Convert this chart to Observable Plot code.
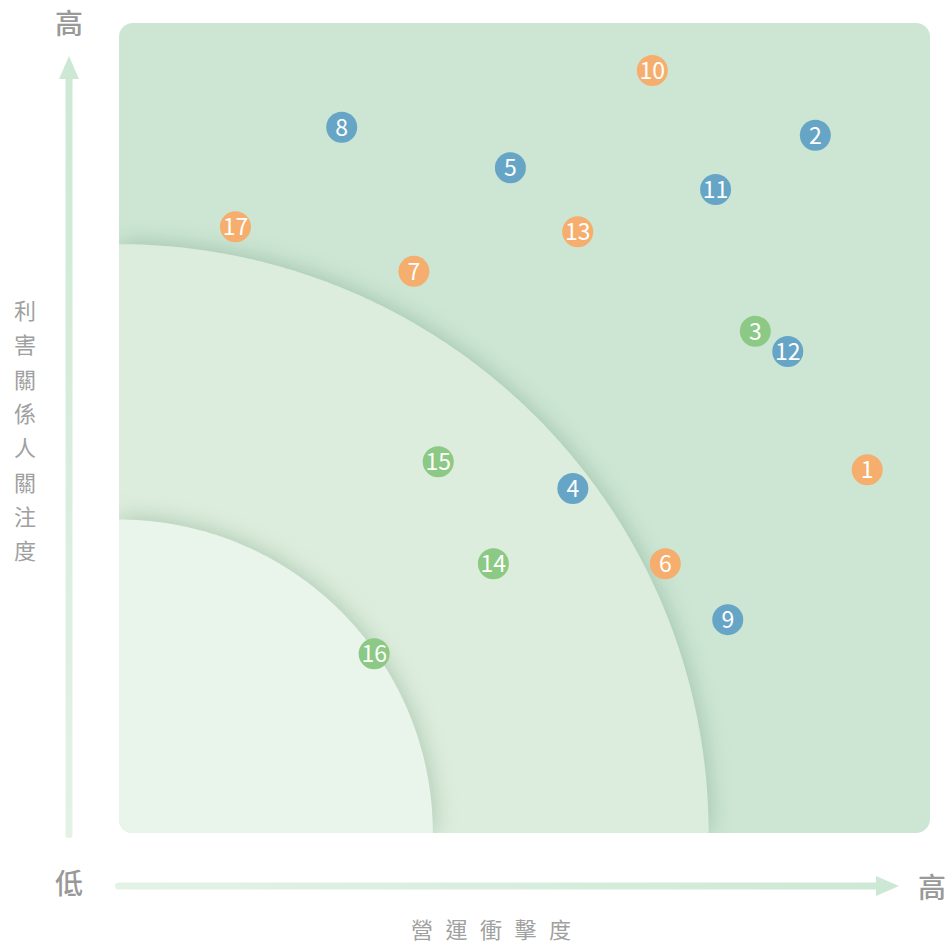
<!DOCTYPE html>
<html>
<head>
<meta charset="utf-8">
<script src="https://cdn.jsdelivr.net/npm/d3@7"></script>
<script src="https://cdn.jsdelivr.net/npm/@observablehq/plot@0.6"></script>
<style>
  html, body { margin: 0; padding: 0; background: #fff; }
  #chart { width: 949px; height: 944px; }
  svg text { font-family: "Noto Sans CJK TC", "Noto Sans", sans-serif; }
</style>
</head>
<body>
<div id="chart"></div>
<script>
// ---- data ----
const ids     = [1, 2, 3, 4, 5, 6, 7, 8, 9, 10, 11, 12, 13, 14, 15, 16, 17];
const impact  = [9.22, 8.58, 7.84, 5.59, 4.82, 6.73, 3.63, 2.74, 7.50, 6.57, 7.35, 8.24, 5.65, 4.61, 3.93, 3.14, 1.43];
const concern = [4.49, 8.62, 6.20, 4.26, 8.22, 3.33, 6.94, 8.72, 2.64, 9.42, 7.95, 5.95, 7.43, 3.33, 4.59, 2.22, 7.49];
const groups  = ["環境", "社會", "治理", "社會", "社會", "環境", "環境", "社會", "社會", "環境", "社會", "社會", "環境", "治理", "治理", "治理", "環境"];
const groupNames  = ["環境", "社會", "治理"];
const groupColors = ["#f5ae6d", "#66a5c6", "#8cc984"];
const zoneRadii   = [7.27, 3.87];            // middle and inner quarter-circle zones
const zoneColors  = ["#ddeddd", "#e9f4ea"];
const panelColor  = "#cde6d4";
const axisMax = 10;
const yTitle = "利害關係人關注度";
const xTitle = "營運衝擊度";
const lowLabel = "低", highLabel = "高";

const points = ids.map((id, i) => ({id, x: impact[i], y: concern[i], g: groups[i]}));
const zones = zoneRadii.map((R, k) =>
  d3.range(0, 241).map(j => {
    const a = (Math.PI / 2) * j / 240;
    return {zone: k, x: R * Math.cos(a), y: R * Math.sin(a)};
  })
);

const mL = 119, mR = 19, mT = 23, mB = 111, W = 949, H = 944;

const chart = Plot.plot({
  width: W, height: H,
  marginLeft: mL, marginRight: mR, marginTop: mT, marginBottom: mB,
  x: {domain: [0, axisMax], axis: null},
  y: {domain: [0, axisMax], axis: null},
  color: {domain: groupNames, range: groupColors},
  marks: [
    Plot.rect([0], {x1: 0, x2: axisMax, y1: 0, y2: axisMax, fill: panelColor, rx: 14}),
    Plot.areaY(zones[0], {x: "x", y: "y", fill: zoneColors[0], curve: "linear", className: "zone"}),
    Plot.areaY(zones[1], {x: "x", y: "y", fill: zoneColors[1], curve: "linear", className: "zone"}),
    Plot.dot(points, {x: "x", y: "y", r: 15.5, fill: "g", stroke: null}),
    Plot.text(points, {x: "x", y: "y", text: d => String(d.id), fill: "white", fontSize: 23, dy: 1,
      fontFamily: "Noto Sans, sans-serif"})
  ]
});

document.getElementById("chart").appendChild(chart);

// ---- decorations: rounded clip, shadows, axis arrows, labels ----
const svg = d3.select(chart);
const defs = svg.append("defs");
defs.append("clipPath").attr("id", "panelClip")
  .append("rect").attr("x", mL).attr("y", mT)
  .attr("width", W - mL - mR).attr("height", H - mT - mB).attr("rx", 14);
svg.selectAll(".zone").each(function() {
  const g = this;
  g.style.filter = "drop-shadow(0px 0px 12px rgba(70,130,90,0.38))";
  const wrap = document.createElementNS("http://www.w3.org/2000/svg", "g");
  wrap.setAttribute("clip-path", "url(#panelClip)");
  g.parentNode.insertBefore(wrap, g);
  wrap.appendChild(g);
});

const ax = mL - 50;            // vertical arrow x
const ay = H - mB + 53;        // horizontal arrow y

const gv = defs.append("linearGradient").attr("id", "gv").attr("gradientUnits", "userSpaceOnUse")
  .attr("x1", 0).attr("y1", H - mB).attr("x2", 0).attr("y2", 56);
gv.append("stop").attr("offset", 0).attr("stop-color", "#e4f2e6");
gv.append("stop").attr("offset", 1).attr("stop-color", "#cce8d4");
const gh = defs.append("linearGradient").attr("id", "gh").attr("gradientUnits", "userSpaceOnUse")
  .attr("x1", mL).attr("y1", 0).attr("x2", 899).attr("y2", 0);
gh.append("stop").attr("offset", 0).attr("stop-color", "#e4f2e6");
gh.append("stop").attr("offset", 1).attr("stop-color", "#cce8d4");

const deco = svg.append("g");
// vertical arrow
deco.append("rect").attr("x", ax - 3.5).attr("y", 74).attr("width", 7).attr("height", H - mB + 5 - 74)
  .attr("rx", 3.5).attr("fill", "url(#gv)");
deco.append("path").attr("d", `M${ax},56 L${ax + 10},79 L${ax - 10},79 Z`).attr("fill", "url(#gv)");
// horizontal arrow
deco.append("rect").attr("x", mL - 4).attr("y", ay - 3.5).attr("width", 882 - mL + 4).attr("height", 7)
  .attr("rx", 3.5).attr("fill", "url(#gh)");
deco.append("path").attr("d", `M899,${ay} L876,${ay - 10} L876,${ay + 10} Z`).attr("fill", "url(#gh)");

const lab = {fill: "#999999", "font-size": 28, "font-weight": 500, "text-anchor": "middle", "dominant-baseline": "central"};
function addText(x, y, t, attrs) {
  const el = deco.append("text").attr("x", x).attr("y", y).text(t);
  Object.entries(attrs).forEach(([k, v]) => el.attr(k, v));
  return el;
}
addText(ax, 22, highLabel, lab);
addText(ax, 882, lowLabel, lab);
addText(932, 886, highLabel, lab);

const sub = {fill: "#a0a0a0", "font-size": 22, "text-anchor": "middle", "dominant-baseline": "central"};
Array.from(yTitle).forEach((ch, i) => addText(25, 309 + i * 34.3, ch, sub));
Array.from(xTitle).forEach((ch, i) => addText(422 + i * 34.5, 928, ch, sub));
</script>
</body>
</html>
